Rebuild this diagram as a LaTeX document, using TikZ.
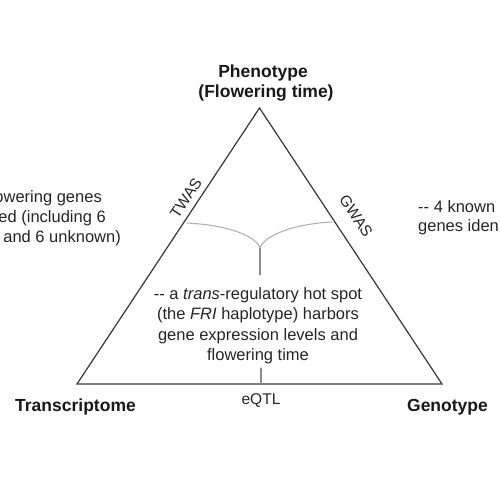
\documentclass[tikz,border=0pt]{standalone}
\usepackage{fontspec}
\setmainfont{Liberation Sans}
\usetikzlibrary{arrows.meta}
\begin{document}
\begin{tikzpicture}[x=1pt,y=-1pt,
  edge/.style={draw=black!78, line width=1.2pt, line join=miter},
  link/.style={draw=black!30, line width=1.1pt},
  linkv/.style={draw=black!45, line width=1.1pt, -{Latex[length=2.5pt,width=3pt]}},
  head/.style={font=\fontsize{17.5}{20}\selectfont\bfseries, text=black!90, inner sep=0},
  body/.style={font=\fontsize{16.5}{20.5}\selectfont, text=black!85, inner sep=0},
  lab/.style={font=\fontsize{15.5}{18}\selectfont, text=black!85, inner sep=0}]
\useasboundingbox (0,0) rectangle (500,500);
\fill[white] (0,0) rectangle (500,500);
% triangle
\coordinate (P) at (259.5,108);
\coordinate (T) at (77,384);
\coordinate (G) at (442,384);
\draw[edge] (P) -- (T) -- (G) -- cycle;
% corner labels
\node[head, anchor=base] (phen1) at (263,78) {Phenotype};
\node[head, anchor=base] (phen2) at (266,98) {(Flowering time)};
\node[head, anchor=base] (trans) at (75.5,411) {Transcriptome};
\node[head, anchor=base] (geno) at (447.5,411) {Genotype};
% side labels
\node[lab, rotate=56.3] (twas) at (186,198) {TWAS};
\node[lab, rotate=-56.3] (gwas) at (356,216) {GWAS};
\node[lab, anchor=base] (eqtl) at (261,404) {eQTL};
% centre text
\node[body, align=center, anchor=north] (hot) at (258,287)
  {-{}- a \textit{trans}-regulatory hot spot\\
   (the \textit{FRI} haplotype) harbors\\
   gene expression levels and\\
   flowering time};
% side texts (cut by the picture edge)
\node[body, anchor=base east] (l1) at (102,202) {owering genes};
\node[body, anchor=base east] (l2) at (106,222) {ed (including 6};
\node[body, anchor=base east] (l3) at (121,242) {and 6 unknown)};
\node[body, anchor=base west] (r1) at (418,212) {-{}- 4 known};
\node[body, anchor=base west] (r2) at (418,231) {genes iden};
% connectors
\coordinate (tw) at (186.5,223);
\coordinate (gw) at (332,222);
\coordinate (j) at (260,248);
\coordinate (jt) at (260,276);
\draw[link] (tw) .. controls (228,225) and (256,236) .. (j);
\draw[link] (gw) .. controls (292,224) and (264,236) .. (j);
\draw[linkv] (j) -- (jt);
\coordinate (qa) at (261,384);
\coordinate (qb) at (261,367);
\draw[linkv] (qa) -- (qb);
\end{tikzpicture}
\end{document}
